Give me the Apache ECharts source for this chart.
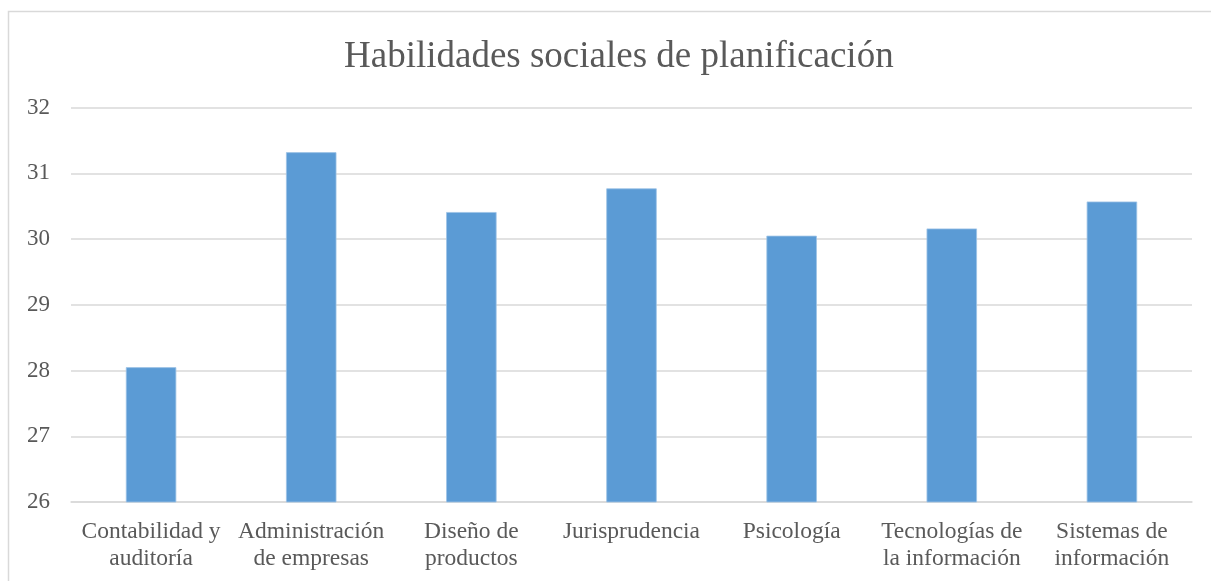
<!DOCTYPE html>
<html>
<head>
<meta charset="utf-8">
<style>
  html, body { margin: 0; padding: 0; background: #ffffff; }
  #chart { width: 1211px; height: 581px; }
</style>
<script src="https://cdn.jsdelivr.net/npm/echarts@6/dist/echarts.min.js"></script>
</head>
<body>
<div id="chart"></div>
<script>
const chartTitle = 'Habilidades sociales de planificación';
const categories = [
  'Contabilidad y\nauditoría',
  'Administración\nde empresas',
  'Diseño de\nproductos',
  'Jurisprudencia',
  'Psicología',
  'Tecnologías de\nla información',
  'Sistemas de\ninformación'
];
const values = [28.05, 31.32, 30.41, 30.77, 30.05, 30.16, 30.57];
const yMin = 26;
const yMax = 32;
const yStep = 1;

const serif = '"Liberation Serif", "Times New Roman", serif';
const textColor = '#595959';

const chart = echarts.init(document.getElementById('chart'), null, { renderer: 'canvas' });
chart.setOption({
  backgroundColor: '#ffffff',
  animation: false,
  title: {
    text: chartTitle,
    left: 339,
    top: 34,
    textStyle: { fontFamily: serif, fontSize: 37, fontWeight: 'normal', color: textColor }
  },
  graphic: [{
    type: 'rect',
    shape: { x: 8.5, y: 11.5, width: 1220, height: 600 },
    style: { fill: 'none', stroke: '#d9d9d9', lineWidth: 1.5 },
    silent: true
  }],
  grid: { left: 71, right: 19, top: 107.5, bottom: 79, containLabel: false },
  xAxis: {
    type: 'category',
    data: categories,
    axisLine: { show: true, lineStyle: { color: '#d9d9d9', width: 1.5 } },
    axisTick: { show: false },
    axisLabel: {
      interval: 0,
      margin: 16,
      fontFamily: serif,
      fontSize: 23.5,
      lineHeight: 27,
      color: textColor
    }
  },
  yAxis: {
    type: 'value',
    min: yMin,
    max: yMax,
    interval: yStep,
    axisLine: { show: false },
    axisTick: { show: false },
    splitLine: { lineStyle: { color: '#d9d9d9', width: 1.5 } },
    axisLabel: { margin: 21, fontFamily: serif, fontSize: 23, color: textColor }
  },
  series: [{
    type: 'bar',
    data: values,
    barWidth: '31.5%',
    itemStyle: { color: '#5b9bd5', borderColor: '#9dc3e6', borderWidth: 0.8 }
  }]
});
</script>
</body>
</html>
